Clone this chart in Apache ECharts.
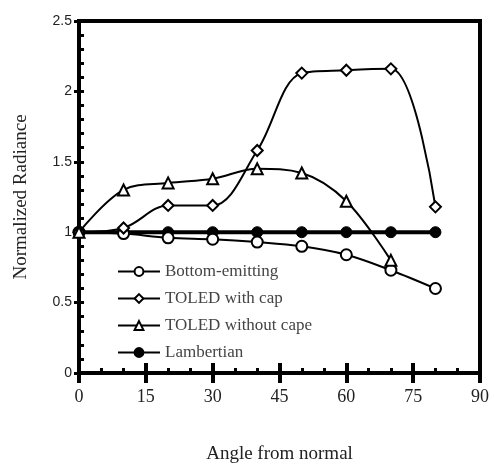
<!DOCTYPE html>
<html>
<head>
<meta charset="utf-8">
<script src="https://cdn.jsdelivr.net/npm/echarts@6/dist/echarts.min.js"></script>
<style>html,body{margin:0;padding:0;background:#fff}#c{width:494px;height:474px}</style>
</head>
<body>
<div id="c"></div>
<script>
var angles = [0, 10, 20, 30, 40, 50, 60, 70, 80];
var bottomEmitting = [1, 0.99, 0.96, 0.95, 0.93, 0.90, 0.84, 0.73, 0.60];
var toledWithCap = [1, 1.03, 1.19, 1.19, 1.58, 2.13, 2.15, 2.16, 1.18];
var toledWithoutCape = [1, 1.30, 1.35, 1.38, 1.45, 1.42, 1.22, 0.80];
var lambertian = [1, 1, 1, 1, 1, 1, 1, 1, 1];
var seriesNames = ['Bottom-emitting', 'TOLED with cap', 'TOLED without cape', 'Lambertian'];
var xTicks = [0, 15, 30, 45, 60, 75, 90];
var yTicks = [0, 0.5, 1, 1.5, 2, 2.5];

function pairs(vals) { return vals.map(function (v, i) { return [angles[i], v]; }); }

var chart = echarts.init(document.getElementById('c'), null, { renderer: 'canvas' });
var serif = '"Liberation Serif", "Times New Roman", serif';
var common = {
  type: 'line', smooth: 0.35, symbolSize: 10, showAllSymbol: true,
  lineStyle: { color: '#000', width: 2 },
  itemStyle: { color: '#fff', borderColor: '#000', borderWidth: 2 }
};
chart.setOption({
  animation: false,
  backgroundColor: '#fff',
  grid: { left: 79, right: 14, top: 21, bottom: 101, show: true, borderColor: '#000', borderWidth: 4, containLabel: false },
  legend: {
    orient: 'vertical', left: 112, top: 258, itemWidth: 42, itemHeight: 11, itemGap: 10,
    data: seriesNames,
    textStyle: { fontFamily: serif, fontSize: 17, color: '#444' }
  },
  xAxis: [{
    type: 'value', min: xTicks[0], max: xTicks[xTicks.length - 1], interval: 15,
    name: 'Angle from normal', nameLocation: 'middle', nameGap: 72,
    nameTextStyle: { fontFamily: serif, fontSize: 19, color: '#222' },
    axisLine: { lineStyle: { color: '#000', width: 4 } },
    axisTick: { show: true, inside: false, length: 10, lineStyle: { color: '#000', width: 4 } },
    minorTick: { show: false },
    axisLabel: { fontFamily: serif, fontSize: 18, color: '#222', margin: 15 },
    splitLine: { show: false }
  }, {
    type: 'value', min: xTicks[0], max: xTicks[xTicks.length - 1], interval: 15, position: 'bottom',
    axisLine: { show: false },
    axisTick: { show: true, inside: true, length: 10, lineStyle: { color: '#000', width: 4 } },
    minorTick: { show: true, splitNumber: 3, length: 5, lineStyle: { color: '#000', width: 3 } },
    axisLabel: { show: false }, splitLine: { show: false }
  }],
  yAxis: [{
    type: 'value', min: yTicks[0], max: yTicks[yTicks.length - 1], interval: 0.5,
    name: 'Normalized Radiance', nameLocation: 'middle', nameGap: 48,
    nameTextStyle: { fontFamily: serif, fontSize: 19, color: '#222' },
    axisLine: { lineStyle: { color: '#000', width: 4 } },
    axisTick: { show: true, inside: false, length: 5, lineStyle: { color: '#000', width: 3 } },
    axisLabel: { fontFamily: '"Liberation Sans", Arial, sans-serif', fontSize: 14, color: '#222', margin: 7,
      formatter: function (v) { return String(v); } },
    splitLine: { show: false }
  }, {
    type: 'value', min: yTicks[0], max: yTicks[yTicks.length - 1], interval: 0.5, position: 'left',
    axisLine: { show: false },
    axisTick: { show: true, inside: true, length: 5, lineStyle: { color: '#000', width: 3 } },
    minorTick: { show: true, splitNumber: 5, length: 5, lineStyle: { color: '#000', width: 3 } },
    axisLabel: { show: false }, splitLine: { show: false }
  }],
  series: [
    Object.assign({}, common, { name: seriesNames[0], symbol: 'circle', symbolSize: 11, data: pairs(bottomEmitting), z: 3 }),
    Object.assign({}, common, { name: seriesNames[1], symbol: 'diamond', symbolSize: 11, data: pairs(toledWithCap), z: 4 }),
    Object.assign({}, common, { name: seriesNames[2], symbol: 'triangle', symbolSize: 11, data: pairs(toledWithoutCape), z: 4 }),
    { type: 'line', name: seriesNames[3], symbol: 'circle', symbolSize: 11, smooth: false, showAllSymbol: true,
      lineStyle: { color: '#000', width: 4 }, itemStyle: { color: '#000', borderColor: '#000', borderWidth: 1 },
      data: pairs(lambertian), z: 2 }
  ]
});
</script>
</body>
</html>
